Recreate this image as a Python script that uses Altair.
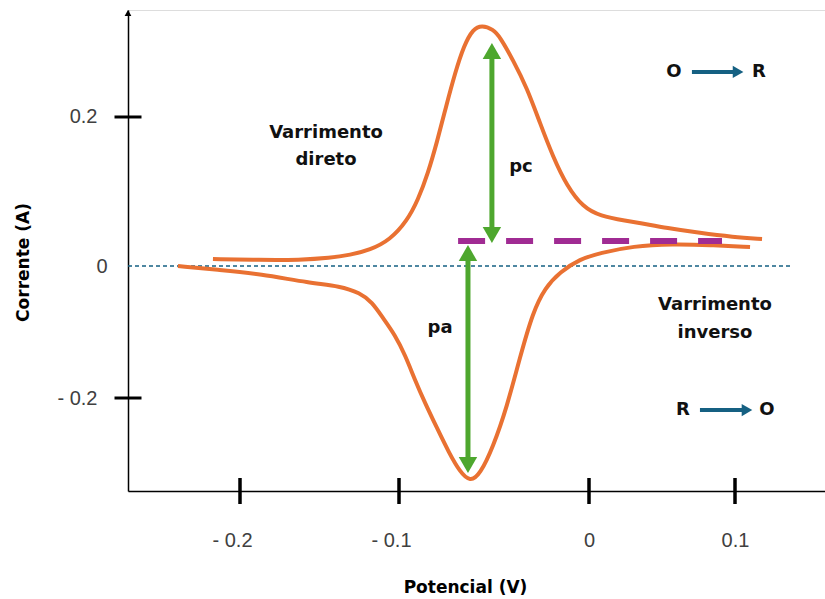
import altair as alt
import pandas as pd

ORANGE = "#E97132"
GREEN = "#4EA72E"
PURPLE = "#A02B93"
BLUE = "#156082"
TEXT_FONT = "DejaVu Sans"
LABEL_FONT = "Liberation Sans"

# ---- scale break points (the drawing uses uneven tick spacing) ----
x_break_values = [-0.2704, -0.2, -0.1, 0.0, 0.1, 0.1616]
x_break_pixels = [0, 112, 271, 461, 607, 697]
y_break_values = [-0.3409, 0.0, 0.3436]
y_break_pixels = [481, 256, 0]

x_tick_values = [-0.2, -0.1, 0.0, 0.1]
y_tick_values = [-0.2, 0.0, 0.2]
y_tick_marks = [-0.2, 0.2]

# ---- voltammogram: forward (upper) branch ----
fwd_x = [-0.2170, -0.1874, -0.1623, -0.1434, -0.1308, -0.1182, -0.1057, -0.0958, -0.0900, -0.0847,
         -0.0800, -0.0753, -0.0705, -0.0658, -0.0611, -0.0563, -0.0505, -0.0468, -0.0400, -0.0326,
         -0.0258, -0.0189, -0.0116, -0.0032, 0.0075, 0.0260, 0.0349, 0.0534, 0.0760, 0.0986, 0.1185]
fwd_y = [0.0094, 0.0081, 0.0081, 0.0107, 0.0148, 0.0215, 0.0349, 0.0604, 0.0886, 0.1248,
         0.1664, 0.2134, 0.2591, 0.2960, 0.3180, 0.3235, 0.3175, 0.3074, 0.2765, 0.2389,
         0.1919, 0.1463, 0.1074, 0.0792, 0.0671, 0.0604, 0.0577, 0.0510, 0.0443, 0.0389, 0.0362]

# ---- reverse (lower) branch ----
rev_x = [-0.2390, -0.2126, -0.1874, -0.1560, -0.1371, -0.1245, -0.1170, -0.1101, -0.1025, -0.0968,
         -0.0916, -0.0863, -0.0800, -0.0737, -0.0679, -0.0626, -0.0574, -0.0505, -0.0432, -0.0363,
         -0.0295, -0.0232, -0.0153, -0.0047, 0.0075, 0.0301, 0.0575, 0.0829, 0.1103]
rev_y = [0.0, -0.0061, -0.0121, -0.0258, -0.0303, -0.0409, -0.0545, -0.0788, -0.1045, -0.1348,
         -0.1727, -0.2076, -0.2455, -0.2830, -0.3120, -0.3270, -0.3160, -0.2742, -0.2136, -0.1379,
         -0.0697, -0.0333, -0.0091, 0.0094, 0.0174, 0.0268, 0.0295, 0.0282, 0.0255]

# ---- annotations ----
zero_line_x = [-0.2704, 0.1377]
baseline_dash_x = [-0.0689, 0.0911]
baseline_dash_y = 0.0336

green_shaft_x = [-0.0511, -0.0637]
green_shaft_y1 = [0.2886, 0.0174]
green_shaft_y2 = [0.0416, -0.3015]
green_head_x = [-0.0511, -0.0511, -0.0637, -0.0637]
green_head_y = [0.2886, 0.0416, 0.0174, -0.3015]
green_head_shape = ["triangle-up", "triangle-down", "triangle-up", "triangle-down"]

blue_shaft_x1 = [0.0705, 0.0760]
blue_shaft_x2 = [0.1021, 0.1082]
blue_shaft_y = [0.2604, -0.2182]

label_text = ["Varrimento", "direto", "Varrimento", "inverso", "pc", "pa", "O", "R", "R", "O"]
label_x = [-0.1459, -0.1459, 0.0863, 0.0863, -0.0358, -0.0784, 0.0582, 0.1164, 0.0644, 0.1219]
label_y = [0.1785, 0.1423, -0.0591, -0.1015, 0.1329, -0.0939, 0.2604, 0.2604, -0.2182, -0.2182]

axis_arrow_y = 0.3396

# ---- tables ----
curves = pd.DataFrame({
    "x": fwd_x + rev_x,
    "y": fwd_y + rev_y,
    "branch": ["direto"] * len(fwd_x) + ["inverso"] * len(rev_x),
})
zero_df = pd.DataFrame({"x": [zero_line_x[0]], "x2": [zero_line_x[1]], "y": [0.0]})
dash_df = pd.DataFrame({"x": [baseline_dash_x[0]], "x2": [baseline_dash_x[1]], "y": [baseline_dash_y]})
gshaft_df = pd.DataFrame({"x": green_shaft_x, "y": green_shaft_y1, "y2": green_shaft_y2})
ghead_df = pd.DataFrame({"x": green_head_x, "y": green_head_y, "shape": green_head_shape})
bshaft_df = pd.DataFrame({"x": blue_shaft_x1, "x2": blue_shaft_x2, "y": blue_shaft_y})
bhead_df = pd.DataFrame({"x": blue_shaft_x2, "y": blue_shaft_y, "shape": ["triangle-right"] * 2})
text_df = pd.DataFrame({"x": label_x, "y": label_y, "text": label_text})
ytick_df = pd.DataFrame({"x": [x_break_values[0]] * len(y_tick_marks), "y": y_tick_marks})
xtick_df = pd.DataFrame({"x": x_tick_values, "y": [y_break_values[0]] * len(x_tick_values)})
arrow_df = pd.DataFrame({"x": [x_break_values[0]], "y": [axis_arrow_y]})

xs = alt.Scale(domain=x_break_values, range=x_break_pixels, nice=False, zero=False)
ys = alt.Scale(domain=y_break_values, range=y_break_pixels, nice=False, zero=False)

x_axis = alt.Axis(
    values=x_tick_values, title="Potencial (V)", grid=False, ticks=False,
    domainColor="black", domainWidth=1.5,
    labelExpr="datum.value < 0 ? '- ' + format(-datum.value, '.1f') : (datum.value == 0 ? '0' : format(datum.value, '.1f'))",
    labelFont=LABEL_FONT, labelFontSize=20, labelColor="#404040",
    labelPadding=49, labelBaseline="middle", labelAlign="center",
    labelOffset={"condition": {"test": "datum.value < 0", "value": -8}, "value": 0},
    labelFlush=False, labelOverlap=False,
    titleFont=TEXT_FONT, titleFontWeight="bold", titleFontSize=17, titleColor="black",
    titleX=337, titleY=96, titleBaseline="middle", titleAlign="center",
)
y_axis = alt.Axis(
    values=y_tick_values, title="Corrente (A)", grid=False, ticks=False,
    domainColor="black", domainWidth=1.5,
    labelExpr="datum.value < 0 ? '- ' + format(-datum.value, '.1f') : (datum.value == 0 ? '0' : format(datum.value, '.1f'))",
    labelFont=LABEL_FONT, labelFontSize=20, labelColor="#404040",
    labelPadding={"condition": {"test": "datum.value == 0", "value": 21}, "value": 31},
    labelBaseline="middle", labelAlign="right", labelFlush=False, labelOverlap=False,
    titleFont=TEXT_FONT, titleFontWeight="bold", titleFontSize=17, titleColor="black",
    titleAngle=270, titleX=-105, titleY=252, titleBaseline="middle", titleAlign="center",
)

X = alt.X("x:Q", scale=xs, axis=x_axis)
Y = alt.Y("y:Q", scale=ys, axis=y_axis)

zero_line = alt.Chart(zero_df).mark_rule(color=BLUE, strokeWidth=1.5, strokeDash=[4, 3]).encode(
    x=X, x2="x2:Q", y=Y)
curve = alt.Chart(curves).mark_line(color=ORANGE, strokeWidth=4, interpolate="basis").encode(
    x=X, y=Y, detail="branch:N")
dash = alt.Chart(dash_df).mark_rule(color=PURPLE, strokeWidth=6, strokeDash=[27, 21]).encode(
    x=X, x2="x2:Q", y=Y)
gshaft = alt.Chart(gshaft_df).mark_rule(color=GREEN, strokeWidth=5).encode(x=X, y=Y, y2="y2:Q")
ghead = alt.Chart(ghead_df).mark_point(filled=True, color=GREEN, opacity=1, size=340, strokeWidth=0).encode(
    x=X, y=Y, shape=alt.Shape("shape:N", scale=None))
bshaft = alt.Chart(bshaft_df).mark_rule(color=BLUE, strokeWidth=4).encode(x=X, x2="x2:Q", y=Y)
bhead = alt.Chart(bhead_df).mark_point(filled=True, color=BLUE, opacity=1, size=150, strokeWidth=0).encode(
    x=X, y=Y, shape=alt.Shape("shape:N", scale=None))
texts = alt.Chart(text_df).mark_text(font=TEXT_FONT, fontWeight="bold", fontSize=18, color="#111111",
                                      align="center", baseline="middle").encode(x=X, y=Y, text="text:N")
yticks = alt.Chart(ytick_df).mark_tick(orient="horizontal", size=27, thickness=3, color="black", opacity=1).encode(x=X, y=Y)
xticks = alt.Chart(xtick_df).mark_tick(orient="vertical", size=26, thickness=3.5, color="black", opacity=1).encode(x=X, y=Y)
arrow = alt.Chart(arrow_df).mark_point(filled=True, shape="triangle-up", color="black", opacity=1, size=45, strokeWidth=0).encode(x=X, y=Y)

chart = alt.layer(zero_line, curve, dash, gshaft, ghead, bshaft, bhead, texts, yticks, xticks, arrow).properties(
    width=697, height=481,
    padding={"left": 128, "top": 10, "right": 0, "bottom": 108},
    autosize=alt.AutoSizeParams(type="none"),
).configure_view(strokeWidth=0).configure(background="white")

chart.save("out.html", embed_options={"renderer": "svg", "actions": False})
